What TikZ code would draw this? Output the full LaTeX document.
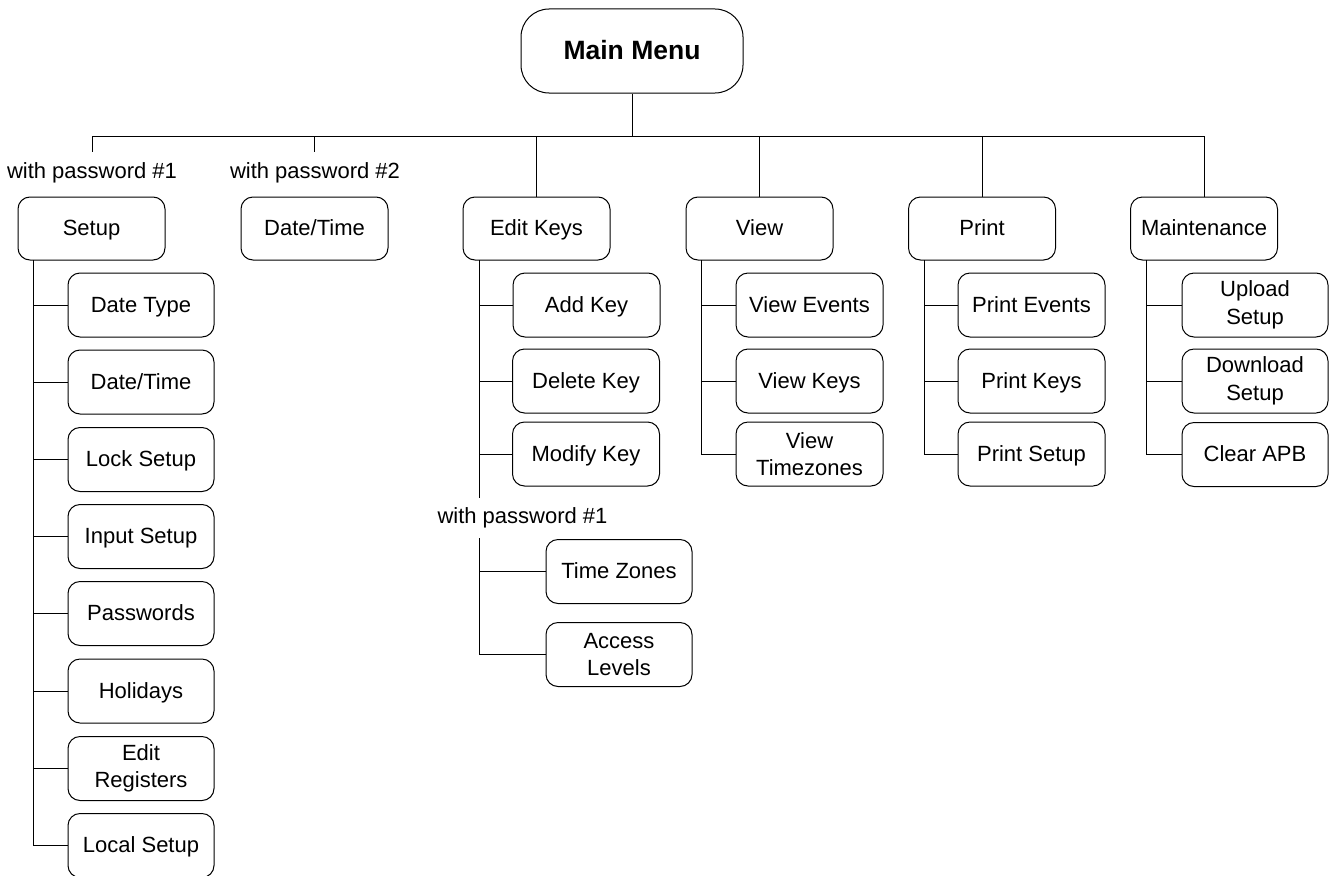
\documentclass[tikz,border=0pt]{standalone}
\usepackage{fontspec}
\setmainfont{Liberation Sans}
\begin{document}
\begin{tikzpicture}[x=1pt,y=-1pt,
  line width=1pt,
  menubox/.style={draw, rounded corners=12pt, align=center, inner sep=0pt,
    minimum width=147pt, minimum height=63pt, font=\fontsize{22}{27.5}\selectfont,
    text height=18.8pt, text depth=4.6pt},
  twoline/.style={text height=, text depth=},
  subbox/.style={menubox, minimum width=146pt, minimum height=64pt},
  mainbox/.style={draw, rounded corners=28pt, inner sep=0pt, minimum width=222pt,
    minimum height=84pt, font=\fontsize{26.5}{30}\selectfont\bfseries,
    text height=22.6pt, text depth=5.6pt},
  pwlabel/.style={inner sep=0pt, font=\fontsize{22}{27.5}\selectfont,
    text height=15.8pt, text depth=4.6pt},
  conn/.style={line width=1pt}]
\useasboundingbox (0,0) rectangle (1329,875);

% main
\node[mainbox] (mm) at (632,51) {Main Menu};

% top level
\node[menubox] (setup) at (91.5,228.5) {Setup};
\node[menubox] (dtime) at (314.5,228.5) {Date/Time};
\node[menubox] (edit)  at (536.5,228.5) {Edit Keys};
\node[menubox] (view)  at (759.5,228.5) {View};
\node[menubox] (print) at (982,228.5) {Print};
\node[menubox] (maint) at (1204,228.5) {Maintenance};

\node[pwlabel] (pwa) at (92,173) {with password \#1};
\node[pwlabel] (pwb) at (315,173) {with password \#2};
\node[pwlabel] (pwc) at (522.5,518) {with password \#1};

% bus
\coordinate (bus) at (0,136);
\coordinate (pwatop) at (92,152);
\coordinate (pwbtop) at (314,152);
\draw[conn] (mm.south) -- (mm.south |- bus);
\draw[conn] (pwatop |- bus) -- (maint.north |- bus);
\draw[conn] (pwatop |- bus) -- (pwatop);
\draw[conn] (pwbtop |- bus) -- (pwbtop);
\foreach \n in {edit,view,print,maint}
  \draw[conn] (\n.north |- bus) -- (\n.north);

% setup children
\node[subbox] (s1) at (141,305) {Date Type};
\node[subbox] (s2) at (141,382) {Date/Time};
\node[subbox] (s3) at (141,459.5) {Lock Setup};
\node[subbox] (s4) at (141,536.5) {Input Setup};
\node[subbox] (s5) at (141,613.5) {Passwords};
\node[subbox] (s6) at (141,691) {Holidays};
\node[subbox, twoline] (s7) at (141,768.5) {Edit\\Registers};
\node[subbox] (s8) at (141,845.5) {Local Setup};
\coordinate (ss) at (33,260);
\draw[conn] (ss) |- (s8.west);
\foreach \n in {s1,s2,s3,s4,s5,s6,s7}
  \draw[conn] (ss |- \n.west) -- (\n.west);

% edit keys children
\node[subbox, minimum width=147pt] (e1) at (586.5,305) {Add Key};
\node[subbox, minimum width=147pt] (e2) at (586,381) {Delete Key};
\node[subbox, minimum width=147pt] (e3) at (586,454) {Modify Key};
\node[subbox] (e4) at (619,571.5) {Time Zones};
\node[subbox, twoline] (e5) at (619,654.5) {Access\\Levels};
\coordinate (es) at (479,260);
\coordinate (esend) at (479,498);
\coordinate (es2) at (479,538);
\draw[conn] (es) -- (esend);
\foreach \n in {e1,e2,e3}
  \draw[conn] (es |- \n.west) -- (\n.west);
\draw[conn] (es2) |- (e5.west);
\draw[conn] (es2 |- e4.west) -- (e4.west);

% view children
\node[subbox, minimum width=147pt] (v1) at (809.5,305) {View Events};
\node[subbox, minimum width=147pt] (v2) at (809.5,381) {View Keys};
\node[subbox, minimum width=147pt, twoline] (v3) at (809.5,454) {View\\Timezones};
\coordinate (vs) at (701,260);
\draw[conn] (vs) |- (v3.west);
\foreach \n in {v1,v2}
  \draw[conn] (vs |- \n.west) -- (\n.west);

% print children
\node[subbox, minimum width=147pt] (p1) at (1031.5,305) {Print Events};
\node[subbox, minimum width=147pt] (p2) at (1031.5,381) {Print Keys};
\node[subbox, minimum width=147pt] (p3) at (1031.5,454) {Print Setup};
\coordinate (ps) at (924,260);
\draw[conn] (ps) |- (p3.west);
\foreach \n in {p1,p2}
  \draw[conn] (ps |- \n.west) -- (\n.west);

% maintenance children
\node[subbox, twoline] (m1) at (1255,305) {Upload\\Setup};
\node[subbox, twoline] (m2) at (1255,381) {Download\\Setup};
\node[subbox] (m3) at (1255,454.5) {Clear APB};
\coordinate (ms) at (1146,260);
\draw[conn] (ms) |- (m3.west);
\foreach \n in {m1,m2}
  \draw[conn] (ms |- \n.west) -- (\n.west);
\end{tikzpicture}
\end{document}
